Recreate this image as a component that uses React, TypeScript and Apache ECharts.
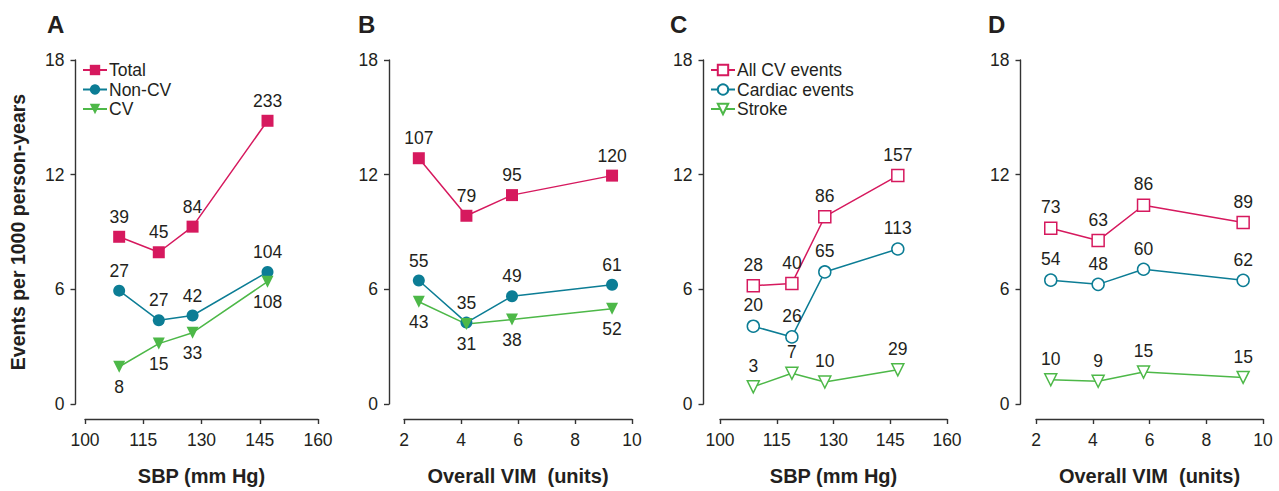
import React, { useEffect, useRef } from "react";
import * as echarts from "echarts";

// ---- data ----
const sbpX = [108.8, 119, 127.7, 147];
const vimX = [2.52, 4.19, 5.79, 9.3];
const sbpTicks = [100, 115, 130, 145, 160];
const yTicks = [0, 6, 12, 18];

// Panel A (SBP): Total, Non-CV, CV
const aTotal = [8.75, 7.94, 9.28, 14.82];
const aTotalN = ["39", "45", "84", "233"];
const aNonCV = [5.93, 4.38, 4.63, 6.91];
const aNonCVN = ["27", "27", "42", "104"];
const aCV = [1.95, 3.16, 3.73, 6.4];
const aCVN = ["8", "15", "33", "108"];

// Panel B (VIM): Total, Non-CV, CV
const bTotal = [12.86, 9.85, 10.93, 11.95];
const bTotalN = ["107", "79", "95", "120"];
const bNonCV = [6.46, 4.26, 5.64, 6.24];
const bNonCVN = ["55", "35", "49", "61"];
const bCV = [5.35, 4.18, 4.42, 4.99];
const bCVN = ["43", "31", "38", "52"];

// Panel C (SBP): All CV events, Cardiac events, Stroke
const cAll = [6.19, 6.31, 9.8, 11.95];
const cAllN = ["28", "40", "86", "157"];
const cCard = [4.07, 3.51, 6.91, 8.11];
const cCardN = ["20", "26", "65", "113"];
const cStroke = [0.9, 1.61, 1.15, 1.79];
const cStrokeN = ["3", "7", "10", "29"];

// Panel D (VIM): All CV events, Cardiac events, Stroke
const dAll = [9.2, 8.55, 10.4, 9.5];
const dAllN = ["73", "63", "86", "89"];
const dCard = [6.48, 6.26, 7.05, 6.47];
const dCardN = ["54", "48", "60", "62"];
const dStroke = [1.27, 1.19, 1.67, 1.39];
const dStrokeN = ["10", "9", "15", "15"];

const MAG = "#d6195e";
const TEAL = "#0c7d95";
const GREEN = "#4db848";
const INK = "#231f20";
const FONT = "'Liberation Sans', Arial, Helvetica, sans-serif";

function mkSeries(
  name: string,
  gridIdx: number,
  xs: number[],
  ys: number[],
  labels: string[],
  color: string,
  symbol: string,
  open: boolean,
  labelPos: string
) {
  return {
    type: "line",
    name,
    xAxisIndex: gridIdx,
    yAxisIndex: gridIdx,
    data: xs.map((x, i) => [x, ys[i]]),
    symbol,
    symbolSize: 12,
    symbolRotate: symbol === "triangle" ? 180 : 0,
    lineStyle: { color, width: 1.5 },
    itemStyle: open
      ? { color: "#ffffff", borderColor: color, borderWidth: 1.5 }
      : { color, borderColor: color, borderWidth: 0 },
    label: {
      show: true,
      position: labelPos,
      distance: 5,
      color: INK,
      fontSize: 17.5,
      fontFamily: FONT,
      formatter: (p: any) => labels[p.dataIndex],
    },
    emphasis: { disabled: true },
  };
}

const grids = [
  { left: 85, width: 233, yOff: 9.5, kind: "sbp", letter: "A", lx: 47 },
  { left: 404, width: 228, yOff: 15, kind: "vim", letter: "B", lx: 358 },
  { left: 720, width: 227, yOff: 16.5, kind: "sbp", letter: "C", lx: 670 },
  { left: 1036, width: 227, yOff: 15.5, kind: "vim", letter: "D", lx: 988 },
];

export default function App() {
  const ref = useRef<HTMLDivElement>(null);
  useEffect(() => {
    document.body.style.margin = "0";
    if (!ref.current) return;
    const chart = echarts.init(ref.current, null, { renderer: "svg" });

    const axisLineStyle = { color: "#333333", width: 1.4 };

    const xAxes = grids.map((g, i) => {
      const isSbp = g.kind === "sbp";
      return {
        type: "value",
        gridIndex: i,
        min: isSbp ? 100 : 2,
        max: isSbp ? 160 : 10,
        interval: isSbp ? undefined : 2,
        offset: 15,
        axisLine: { show: true, onZero: false, lineStyle: axisLineStyle },
        axisTick: {
          show: true,
          inside: false,
          length: 5,
          lineStyle: axisLineStyle,
          ...(isSbp ? { customValues: sbpTicks } : {}),
        },
        axisLabel: {
          color: INK,
          fontSize: 17.5,
          fontFamily: FONT,
          margin: 12,
          ...(isSbp ? { customValues: sbpTicks } : {}),
        },
        splitLine: { show: false },
        name: isSbp ? "SBP (mm Hg)" : "Overall VIM  (units)",
        nameLocation: "middle",
        nameGap: 47,
        nameTextStyle: {
          color: INK,
          fontSize: 20,
          fontWeight: "bold",
          fontFamily: FONT,
        },
      };
    });

    const yAxes = grids.map((g, i) => ({
      type: "value",
      gridIndex: i,
      min: 0,
      max: 18,
      interval: 6,
      offset: g.yOff,
      axisLine: { show: true, onZero: false, lineStyle: axisLineStyle },
      axisTick: { show: true, inside: false, length: 5, lineStyle: axisLineStyle, customValues: yTicks },
      axisLabel: { color: INK, fontSize: 17.5, fontFamily: FONT, margin: 11, customValues: yTicks },
      splitLine: { show: false },
      ...(i === 0
        ? {
            name: "Events per 1000 person-years",
            nameLocation: "middle",
            nameGap: 48,
            nameTextStyle: {
              color: INK,
              fontSize: 19.5,
              fontWeight: "bold",
              fontFamily: FONT,
            },
          }
        : {}),
    }));

    const series = [
      mkSeries("Total", 0, sbpX, aTotal, aTotalN, MAG, "rect", false, "top"),
      mkSeries("Non-CV", 0, sbpX, aNonCV, aNonCVN, TEAL, "circle", false, "top"),
      mkSeries("CV", 0, sbpX, aCV, aCVN, GREEN, "triangle", false, "bottom"),
      mkSeries("Total", 1, vimX, bTotal, bTotalN, MAG, "rect", false, "top"),
      mkSeries("Non-CV", 1, vimX, bNonCV, bNonCVN, TEAL, "circle", false, "top"),
      mkSeries("CV", 1, vimX, bCV, bCVN, GREEN, "triangle", false, "bottom"),
      mkSeries("All CV events", 2, sbpX, cAll, cAllN, MAG, "rect", true, "top"),
      mkSeries("Cardiac events", 2, sbpX, cCard, cCardN, TEAL, "circle", true, "top"),
      mkSeries("Stroke", 2, sbpX, cStroke, cStrokeN, GREEN, "triangle", true, "top"),
      mkSeries("All CV events", 3, vimX, dAll, dAllN, MAG, "rect", true, "top"),
      mkSeries("Cardiac events", 3, vimX, dCard, dCardN, TEAL, "circle", true, "top"),
      mkSeries("Stroke", 3, vimX, dStroke, dStrokeN, GREEN, "triangle", true, "top"),
    ];

    const legendBase = {
      orient: "vertical",
      top: 61,
      padding: 0,
      itemWidth: 24,
      itemHeight: 13,
      itemGap: 1.5,
      selectedMode: false,
      textStyle: { color: INK, fontSize: 17.5, fontFamily: FONT, padding: [0, 0, 0, -3] },
    };

    chart.setOption({
      animation: false,
      backgroundColor: "#ffffff",
      textStyle: { fontFamily: FONT },
      title: grids.map((g) => ({
        text: g.letter,
        left: g.lx,
        top: 12,
        padding: 0,
        textStyle: { color: INK, fontSize: 24, fontWeight: "bold", fontFamily: FONT },
      })),
      legend: [
        { ...legendBase, left: 82, data: ["Total", "Non-CV", "CV"] },
        { ...legendBase, left: 710, data: ["All CV events", "Cardiac events", "Stroke"] },
      ],
      grid: grids.map((g) => ({ left: g.left, width: g.width, top: 60, height: 349, containLabel: false })),
      xAxis: xAxes,
      yAxis: yAxes,
      series,
    });

    return () => chart.dispose();
  }, []);

  return <div ref={ref} style={{ width: 1279, height: 491 }} />;
}
